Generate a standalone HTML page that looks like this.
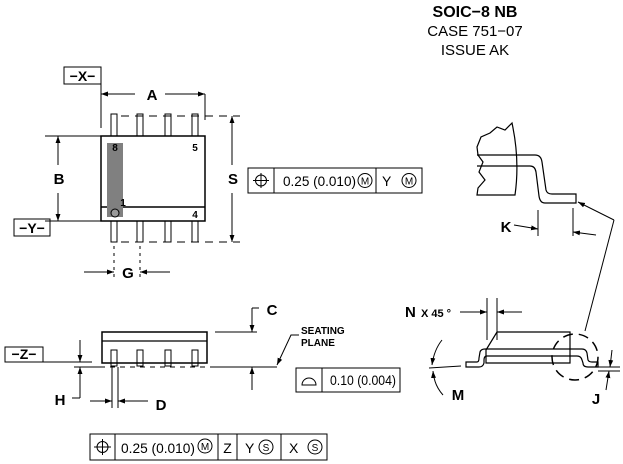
<!DOCTYPE html>
<html><head><style>
html,body{margin:0;padding:0;background:#fff;}
svg{display:block;font-family:"Liberation Sans",Arial,sans-serif;}
.b{font-weight:bold;}
</style></head><body>
<svg width="623" height="464" viewBox="0 0 623 464" xmlns="http://www.w3.org/2000/svg">
<defs>
<marker id="ar" viewBox="0 0 10 10" refX="10" refY="5" markerWidth="7" markerHeight="7" orient="auto-start-reverse" markerUnits="userSpaceOnUse"><path d="M0,1.5 L10,5 L0,8.5 z" fill="#000"/></marker>
</defs>
<text x="475" y="17" font-size="16" text-anchor="middle" class="b">SOIC−8 NB</text>
<text x="475" y="36" font-size="15" text-anchor="middle">CASE 751−07</text>
<text x="475" y="55" font-size="15" text-anchor="middle">ISSUE AK</text>

<!-- TOP VIEW -->
<g fill="none" stroke="#000" stroke-width="1">
<rect x="64" y="67" width="37" height="17"/>
<line x1="101" y1="67" x2="101" y2="128"/>
<line x1="205" y1="94" x2="205" y2="120"/>
<line x1="101" y1="94" x2="135" y2="94" marker-start="url(#ar)"/>
<line x1="165" y1="94" x2="205" y2="94" marker-end="url(#ar)"/>
<rect x="101" y="136" width="104" height="85" stroke-width="1.5"/>
<line x1="101" y1="207" x2="205" y2="207" stroke-width="1.5"/>
<rect x="111" y="114" width="6" height="22"/><rect x="137" y="114" width="6" height="22"/><rect x="165" y="114" width="6" height="22"/><rect x="192" y="114" width="6" height="22"/>
<rect x="111" y="221" width="6" height="21"/><rect x="137" y="221" width="6" height="21"/><rect x="165" y="221" width="6" height="21"/><rect x="192" y="221" width="6" height="21"/>
<line x1="121" y1="116" x2="240" y2="116" stroke-dasharray="8,6"/>
<line x1="121" y1="242" x2="240" y2="242" stroke-dasharray="8,6"/>
<line x1="232" y1="165" x2="232" y2="116" marker-end="url(#ar)"/>
<line x1="232" y1="193" x2="232" y2="242" marker-end="url(#ar)"/>
<line x1="45" y1="136" x2="101" y2="136"/>
<line x1="45" y1="221" x2="101" y2="221"/>
<line x1="58" y1="165" x2="58" y2="136" marker-end="url(#ar)"/>
<line x1="58" y1="193" x2="58" y2="221" marker-end="url(#ar)"/>
<rect x="14" y="219" width="36" height="17"/>
<line x1="114" y1="246" x2="114" y2="280" stroke-dasharray="3,4"/>
<line x1="140" y1="246" x2="140" y2="280" stroke-dasharray="3,4"/>
<line x1="84" y1="272" x2="114" y2="272" marker-end="url(#ar)"/>
<line x1="170" y1="272" x2="140" y2="272" marker-end="url(#ar)"/>
</g>
<rect x="107" y="143" width="16" height="74" fill="#808080"/>
<circle cx="115" cy="213" r="4" fill="#999" stroke="#000"/>
<text x="82.5" y="81" font-size="14" text-anchor="middle" class="b">−X−</text>
<text x="152" y="100" font-size="15" text-anchor="middle" class="b">A</text>
<text x="233" y="184" font-size="15" text-anchor="middle" class="b">S</text>
<text x="59" y="184" font-size="15" text-anchor="middle" class="b">B</text>
<text x="32" y="233" font-size="14" text-anchor="middle" class="b">−Y−</text>
<text x="128" y="278" font-size="15" text-anchor="middle" class="b">G</text>
<text x="115" y="151" font-size="10" text-anchor="middle" class="b">8</text>
<text x="195" y="151" font-size="10" text-anchor="middle" class="b">5</text>
<text x="123" y="206" font-size="10" text-anchor="middle" class="b">1</text>
<text x="195" y="218" font-size="10" text-anchor="middle" class="b">4</text>

<!-- FCF 1 -->
<g fill="none" stroke="#000" stroke-width="1">
<rect x="248" y="168" width="174" height="25"/>
<line x1="274" y1="168" x2="274" y2="193"/>
<line x1="376" y1="168" x2="376" y2="193"/>
<circle cx="261" cy="180.5" r="5.5"/><line x1="261" y1="173" x2="261" y2="188"/><line x1="253" y1="180.5" x2="269" y2="180.5"/>
<circle cx="365" cy="180.5" r="7"/>
<circle cx="409" cy="180.5" r="7"/>
</g>
<text x="283" y="186" font-size="14" textLength="73" lengthAdjust="spacingAndGlyphs">0.25 (0.010)</text>
<text x="365" y="184.5" font-size="10" text-anchor="middle">M</text>
<text x="382" y="186" font-size="14">Y</text>
<text x="409" y="184.5" font-size="10" text-anchor="middle">M</text>

<!-- SIDE VIEW -->
<g fill="none" stroke="#000" stroke-width="1">
<rect x="102" y="332" width="105" height="31" stroke-width="1.5"/>
<line x1="102" y1="341" x2="207" y2="341" stroke-width="1.3"/>
<rect x="111" y="350" width="6" height="16"/><rect x="137" y="350" width="6" height="16"/><rect x="165" y="350" width="6" height="16"/><rect x="192" y="350" width="6" height="16"/>
<rect x="5" y="347" width="38" height="15"/>
<line x1="43" y1="362" x2="92" y2="362"/>
<line x1="74" y1="367" x2="100" y2="367"/>
<line x1="100" y1="367" x2="210" y2="367" stroke-dasharray="5,5"/>
<line x1="210" y1="367" x2="277" y2="367"/>
<line x1="80" y1="340" x2="80" y2="362" marker-end="url(#ar)"/>
<line x1="80" y1="398" x2="80" y2="367" marker-end="url(#ar)"/>
<line x1="72" y1="398" x2="80" y2="398"/>
<line x1="112" y1="367" x2="112" y2="408"/>
<line x1="118" y1="367" x2="118" y2="408"/>
<line x1="90" y1="401" x2="112" y2="401" marker-end="url(#ar)"/>
<line x1="148" y1="401" x2="118" y2="401" marker-end="url(#ar)"/>
<line x1="215" y1="332" x2="257" y2="332"/>
<line x1="252" y1="308" x2="252" y2="332" marker-end="url(#ar)"/>
<line x1="252" y1="390" x2="252" y2="367" marker-end="url(#ar)"/>
<line x1="252" y1="308" x2="259" y2="308"/>
<path d="M299,335 L291,335 L277,365" marker-end="url(#ar)"/>
<rect x="296" y="368" width="104" height="24"/>
<line x1="322" y1="368" x2="322" y2="392"/>
<path d="M302,385 A7,7 0 0 1 316,385 Z"/>
<rect x="90" y="434" width="237" height="26"/>
<line x1="115" y1="434" x2="115" y2="460"/>
<line x1="218" y1="434" x2="218" y2="460"/>
<line x1="237" y1="434" x2="237" y2="460"/>
<line x1="281" y1="434" x2="281" y2="460"/>
<circle cx="102.5" cy="447" r="5.5"/><line x1="102.5" y1="439" x2="102.5" y2="455"/><line x1="94" y1="447" x2="111" y2="447"/>
<circle cx="205" cy="446" r="7"/>
<circle cx="266" cy="447" r="7"/>
<circle cx="315" cy="447" r="7"/>
</g>
<text x="24" y="359" font-size="14" text-anchor="middle" class="b">−Z−</text>
<text x="60" y="405" font-size="15" text-anchor="middle" class="b">H</text>
<text x="161" y="410" font-size="15" text-anchor="middle" class="b">D</text>
<text x="272" y="315" font-size="15" text-anchor="middle" class="b">C</text>
<text x="301" y="334" font-size="10" class="b">SEATING</text>
<text x="301" y="346" font-size="10" class="b">PLANE</text>
<text x="330" y="385" font-size="14" textLength="66" lengthAdjust="spacingAndGlyphs">0.10 (0.004)</text>
<text x="121" y="453" font-size="14" textLength="74" lengthAdjust="spacingAndGlyphs">0.25 (0.010)</text>
<text x="205" y="450" font-size="10" text-anchor="middle">M</text>
<text x="227.5" y="453" font-size="14" text-anchor="middle">Z</text>
<text x="245" y="453" font-size="14">Y</text>
<text x="266" y="451" font-size="10" text-anchor="middle">S</text>
<text x="289" y="453" font-size="14">X</text>
<text x="315" y="451" font-size="10" text-anchor="middle">S</text>

<!-- DETAIL TOP -->
<g fill="none" stroke="#000" stroke-width="1.2">
<path d="M512,123 L505,130 L497,127 L490,133 L481,137 L477,147 L478,155 L483,162 L479,172 L485,180 L478,188 L477,195 L515,195 Q520,160 512,123 Z"/>
<path d="M477,155 L535,155 Q541,155 542,162 L546,190 Q547,194 552,194 L576,194 L576,203 L545,203 Q540,203 539,196 L536,172 Q535,166 530,166 L477,166"/>
</g>
<g fill="none" stroke="#000" stroke-width="1">
<line x1="538" y1="210" x2="538" y2="236"/>
<line x1="573" y1="208" x2="573" y2="236"/>
<line x1="514" y1="225" x2="538" y2="229" marker-end="url(#ar)"/>
<line x1="596" y1="235" x2="573" y2="232" marker-end="url(#ar)"/>
<line x1="585" y1="331" x2="614" y2="220"/>
<line x1="614" y1="220" x2="578" y2="202" marker-end="url(#ar)"/>
</g>
<text x="506" y="232" font-size="15" text-anchor="middle" class="b">K</text>

<!-- DETAIL BOTTOM -->
<g fill="none" stroke="#000" stroke-width="1.2">
<path d="M486,350 L497,332 L570,332 L570,363 L486,363 Z"/>
<path d="M466,362 L477,362 Q479,362 479,358 L480,352 Q481,349 485,349 L582,349 Q586,349 587,353 L588,360 Q589,362 592,362 L598,362 L598,367 L588,367 Q583,367 583,363 L582,360 Q581,356 577,356 L487,356 Q484,356 484,360 L484,363 Q483,367 479,367 L466,367 Z"/>
</g>
<g fill="none" stroke="#000" stroke-width="1">
<circle cx="575" cy="357" r="23" stroke-width="1.5" stroke-dasharray="10,6"/>
<line x1="487" y1="298" x2="487" y2="340"/>
<line x1="497" y1="298" x2="497" y2="340"/>
<line x1="460" y1="312" x2="487" y2="312" marker-end="url(#ar)"/>
<line x1="522" y1="312" x2="497" y2="312" marker-end="url(#ar)"/>
<line x1="429" y1="368" x2="461" y2="366"/>
<path d="M442,340 Q434,350 432,365" marker-end="url(#ar)"/>
<path d="M443,395 Q434,385 433,371" marker-end="url(#ar)"/>
<line x1="598" y1="367" x2="620" y2="367"/>
<line x1="598" y1="371" x2="620" y2="371"/>
<line x1="612" y1="350" x2="610" y2="367" marker-end="url(#ar)"/>
<line x1="606" y1="390" x2="609" y2="371" marker-end="url(#ar)"/>
</g>
<text x="405" y="317" font-size="15" class="b">N</text>
<text x="421" y="317" font-size="11" class="b">X 45 °</text>
<text x="458" y="400" font-size="15" text-anchor="middle" class="b">M</text>
<text x="596" y="404" font-size="15" text-anchor="middle" class="b">J</text>
</svg>
</body></html>
